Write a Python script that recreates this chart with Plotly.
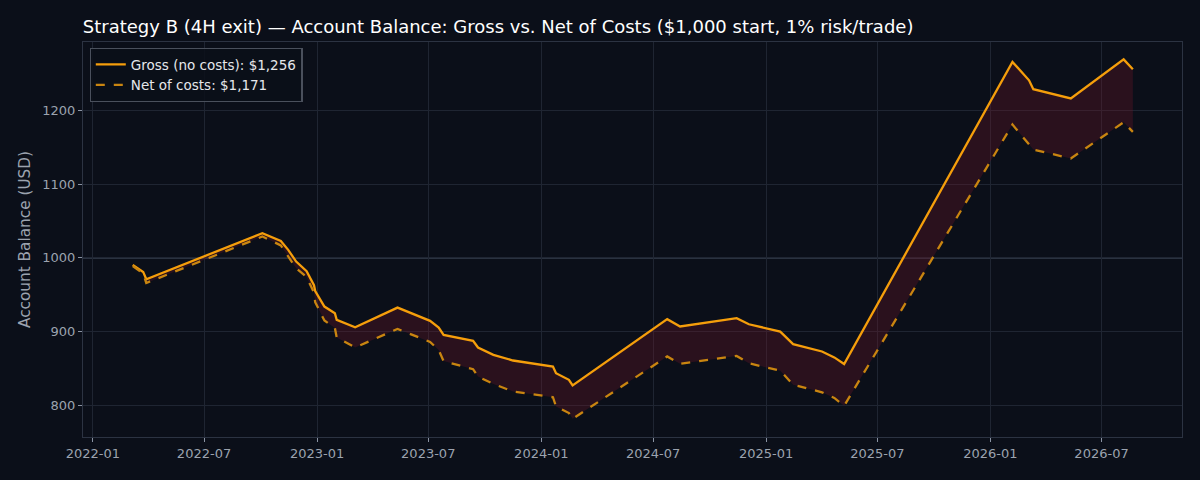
import plotly.graph_objects as go

# trade exit dates (approx)
dates = [
    "2022-03-07", "2022-03-24", "2022-03-29", "2022-10-04", "2022-11-03",
    "2022-11-15", "2022-11-28", "2022-12-15", "2022-12-27", "2022-12-29",
    "2023-01-13", "2023-01-30", "2023-02-02", "2023-03-04", "2023-05-12",
    "2023-07-04", "2023-07-18", "2023-07-26", "2023-09-12", "2023-09-20",
    "2023-10-15", "2023-11-16", "2024-01-20", "2024-01-25", "2024-02-15",
    "2024-02-21", "2024-07-24", "2024-08-14", "2024-11-14", "2024-12-04",
    "2025-01-24", "2025-02-14", "2025-04-02", "2025-04-22", "2025-05-08",
    "2026-02-06", "2026-03-05", "2026-03-12", "2026-05-12", "2026-08-06",
    "2026-08-21",
]

gross = [
    990.5, 981, 971, 1033.5, 1023,
    1011, 995, 982, 963, 955,
    934, 925, 916, 906, 932.6,
    914.6, 905.5, 895.6, 887.5, 878.4,
    868.5, 860.8, 852.6, 843.6, 834.6,
    826.9, 916.9, 907, 918.3, 910,
    900, 883, 873, 865, 856,
    1266, 1241, 1229, 1216.5, 1269.4,
    1256,
]

net = [
    989, 979, 966, 1029, 1017,
    1002, 986, 974, 953, 940,
    915, 905, 892, 878.5, 903.7,
    886, 875, 860, 849, 839,
    829, 818.7, 811, 798.4, 789.5,
    781.7, 866.3, 856.3, 867, 857,
    847, 828, 817.6, 810, 799.3,
    1181, 1154, 1147, 1135, 1184,
    1171,
]

start_balance = 1000
title = "Strategy B (4H exit) — Account Balance: Gross vs. Net of Costs ($1,000 start, 1% risk/trade)"

bg = "#0b0f19"
grid = "#1f2532"
spine = "#2c3342"
tick_col = "#9ca3af"
font = "DejaVu Sans"

fig = go.Figure()

# net first, gross fills down to it
fig.add_trace(go.Scatter(
    x=dates, y=net, mode="lines",
    line=dict(color="rgba(0,0,0,0)", width=0),
    showlegend=False, hoverinfo="skip",
))
fig.add_trace(go.Scatter(
    x=dates, y=gross, mode="lines",
    line=dict(color="rgba(0,0,0,0)", width=0),
    fill="tonexty", fillcolor="rgba(110,22,40,0.32)",
    showlegend=False, hoverinfo="skip",
))

fig.add_trace(go.Scatter(
    x=dates, y=gross, mode="lines",
    name=f"Gross (no costs): ${gross[-1]:,.0f}",
    line=dict(color="#f59e0b", width=2.3),
))
fig.add_trace(go.Scatter(
    x=dates, y=net, mode="lines",
    name=f"Net of costs: ${net[-1]:,.0f}",
    line=dict(color="#c98510", width=2.3, dash="dash"),
))

fig.add_hline(y=start_balance, line=dict(color="#4b5668", width=1.3), layer="below")

fig.update_layout(
    width=1200, height=480,
    paper_bgcolor=bg, plot_bgcolor=bg,
    font=dict(family=font, color=tick_col, size=13),
    margin=dict(l=83, r=18, t=42, b=43),
    title=dict(
        text=title, x=0.069, xanchor="left", y=0.945, yanchor="middle",
        font=dict(family=font, size=18, color="#ffffff"),
    ),
    legend=dict(
        x=0.006, y=0.985, xanchor="left", yanchor="top",
        traceorder="normal",
        bgcolor="rgba(11,15,25,0.85)", bordercolor="#4a505c", borderwidth=1.2,
        font=dict(family=font, size=13.5, color="#e5e7eb"),
        tracegroupgap=0,
    ),
    showlegend=True,
)

fig.update_xaxes(
    type="date",
    range=["2021-12-16", "2026-11-09"],
    tickvals=["2022-01-01", "2022-07-01", "2023-01-01", "2023-07-01", "2024-01-01",
              "2024-07-01", "2025-01-01", "2025-07-01", "2026-01-01", "2026-07-01"],
    tickformat="%Y-%m",
    showgrid=True, gridcolor=grid, gridwidth=1,
    showline=True, linecolor=spine, linewidth=1, mirror=True,
    ticks="outside", ticklen=4, tickcolor="#8a93a3",
    tickfont=dict(size=13, color=tick_col),
    zeroline=False,
)
fig.update_yaxes(
    range=[757, 1293],
    tickvals=[800, 900, 1000, 1100, 1200],
    showgrid=True, gridcolor=grid, gridwidth=1,
    showline=True, linecolor=spine, linewidth=1, mirror=True,
    ticks="outside", ticklen=4, tickcolor="#8a93a3",
    tickfont=dict(size=13, color=tick_col),
    title=dict(text="Account Balance (USD)", font=dict(size=15.3, color=tick_col), standoff=7),
    zeroline=False,
)

# drop the default page margin so the figure sits at the window's corner
fig.write_html(
    "out.html",
    config={"displayModeBar": False},
    post_script="document.body.style.margin='0';document.body.style.background='#0b0f19';",
)
